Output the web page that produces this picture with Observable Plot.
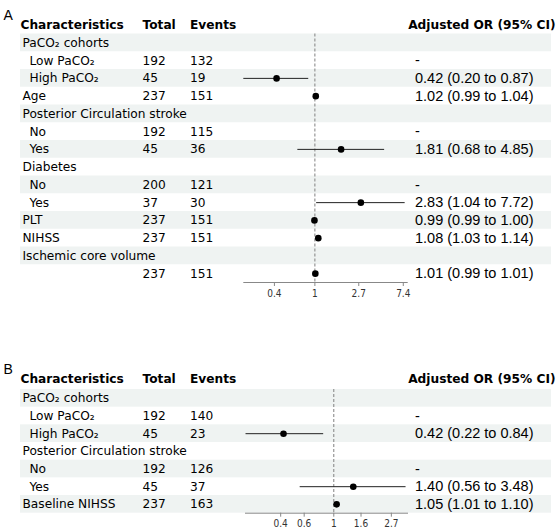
<!DOCTYPE html>
<html>
<head>
<meta charset="utf-8">
<script src="https://cdn.jsdelivr.net/npm/d3@7"></script>
<script src="https://cdn.jsdelivr.net/npm/@observablehq/plot@0.6"></script>
<style>
  body { margin: 0; background: #fff; }
  #chart { width: 560px; }
  #chart svg { display: block; }
</style>
</head>
<body>
<div id="chart"></div>
<script>
// Panel A: multivariable model with all covariates
const labelsA = ["PaCO₂ cohorts", "Low PaCO₂", "High PaCO₂", "Age", "Posterior Circulation stroke", "No", "Yes", "Diabetes", "No", "Yes", "PLT", "NIHSS", "Ischemic core volume", ""];
const indentA = [0, 1, 1, 0, 0, 1, 1, 0, 1, 1, 0, 0, 0, 0];
const totalA  = ["", "192", "45", "237", "", "192", "45", "", "200", "37", "237", "237", "", "237"];
const eventsA = ["", "132", "19", "151", "", "115", "36", "", "121", "30", "151", "151", "", "151"];
const refA    = [0, 1, 0, 0, 0, 1, 0, 0, 1, 0, 0, 0, 0, 0];
const orA     = [null, null, 0.42, 1.02, null, null, 1.81, null, null, 2.83, 0.99, 1.08, null, 1.01];
const lowA    = [null, null, 0.20, 0.99, null, null, 0.68, null, null, 1.04, 0.99, 1.03, null, 0.99];
const highA   = [null, null, 0.87, 1.04, null, null, 4.85, null, null, 7.72, 1.00, 1.14, null, 1.01];
const ticksA  = [0.4, 1, 2.7, 7.4];

// Panel B: reduced model
const labelsB = ["PaCO₂ cohorts", "Low PaCO₂", "High PaCO₂", "Posterior Circulation stroke", "No", "Yes", "Baseline NIHSS"];
const indentB = [0, 1, 1, 0, 1, 1, 0];
const totalB  = ["", "192", "45", "", "192", "45", "237"];
const eventsB = ["", "140", "23", "", "126", "37", "163"];
const refB    = [0, 1, 0, 0, 1, 0, 0];
const orB     = [null, null, 0.42, null, null, 1.40, 1.05];
const lowB    = [null, null, 0.22, null, null, 0.56, 1.01];
const highB   = [null, null, 0.84, null, null, 3.48, 1.10];
const ticksB  = [0.4, 0.6, 1, 1.6, 2.7];

const headers = ["Characteristics", "Total", "Events", "Adjusted OR (95% CI)"];

const TABLE_FONT = "'DejaVu Sans', Verdana, sans-serif";
const CI_FONT = "'Liberation Sans', Arial, Helvetica, sans-serif";
const TICK_FONT = "'DejaVu Sans Condensed', 'DejaVu Sans', sans-serif";
const f2 = d3.format(".2f");

function buildRows(labels, indent, total, events, ref, or, low, high) {
  return labels.map((label, i) => ({
    i, label, indent: indent[i], total: total[i], events: events[i],
    ref: ref[i], or: or[i], lo: low[i], hi: high[i],
    ci: ref[i] ? "-" : (or[i] == null ? "" : `${f2(or[i])} (${f2(low[i])} to ${f2(high[i])})`)
  }));
}

function forest({panel, rows, ticks, xDomain, xRange, height, top, rowH, headerY, panelDy}) {
  const n = rows.length;
  const est = rows.filter(d => d.or != null);
  const yc = d => d.i + 0.5;
  const cell = (data, text, dx, extra = {}) =>
    Plot.text(data, {y: yc, text, frameAnchor: "left", textAnchor: "start", dx, ...extra});
  const head = (label, dx, extra = {}) =>
    Plot.text([label], {y: headerY, text: d => d, frameAnchor: "left", textAnchor: "start", dx,
      fontWeight: "bold", ...extra});
  return Plot.plot({
    width: 560,
    height,
    marginLeft: 20,
    marginRight: 9,
    marginTop: top,
    marginBottom: height - (top + n * rowH),
    x: {type: "log", domain: xDomain, range: xRange, axis: null},
    y: {domain: [0, n], range: [top, top + n * rowH], axis: null},
    style: {fontFamily: TABLE_FONT, fontSize: "12.2px", color: "#000", background: "#fff"},
    marks: [
      // zebra striping across the whole table
      Plot.rect(rows.filter(d => d.i % 2 === 0), {y1: d => d.i, y2: d => d.i + 1, fill: "#eff3f2"}),
      // line of no effect
      Plot.ruleX([1], {y1: 0, y2: n, stroke: "#808080", strokeDasharray: "3,2"}),
      // confidence intervals and point estimates
      Plot.ruleY(est, {y: yc, x1: "lo", x2: "hi", stroke: "#222", strokeWidth: 1}),
      Plot.dot(est, {x: "or", y: yc, r: 3.3, fill: "#000", stroke: "none"}),
      // x axis: baseline, tick marks and labels
      Plot.ruleY([n], {x1: xDomain[0], x2: xDomain[1], stroke: "#888"}),
      Plot.ruleX(ticks, {x: d => d, y1: n, y2: n + 4 / rowH, stroke: "#888"}),
      Plot.text(ticks, {x: d => d, y: n, dy: 11, text: d => `${d}`, fill: "#333",
        fontFamily: TICK_FONT, fontSize: 10}),
      // table columns
      cell(rows.filter(d => !d.indent), "label", 2),
      cell(rows.filter(d => d.indent), "label", 9),
      cell(rows, "total", 122),
      cell(rows, "events", 169.5),
      cell(rows, "ci", 394.5, {fontFamily: CI_FONT, fontSize: 14.5}),
      // column headers
      head(headers[0], 0),
      head(headers[1], 122),
      head(headers[2], 169.5),
      Plot.text([headers[3]], {y: headerY, text: d => d, frameAnchor: "right", textAnchor: "end",
        dx: 4, fontWeight: "bold"}),
      // panel letter
      Plot.text([panel], {frameAnchor: "top-left", textAnchor: "start", dx: -17, dy: panelDy,
        fontFamily: CI_FONT, fontSize: 14})
    ]
  });
}

const rowsA = buildRows(labelsA, indentA, totalA, eventsA, refA, orA, lowA, highA);
const rowsB = buildRows(labelsB, indentB, totalB, eventsB, refB, orB, lowB, highB);

const chart = document.getElementById("chart");
chart.append(forest({
  panel: "A", rows: rowsA, ticks: ticksA,
  xDomain: [0.2, 8.27], xRange: [243.3, 407.7],
  height: 320, top: 33.5, rowH: 17.75, headerY: -0.52, panelDy: -23.5
}));
chart.append(forest({
  panel: "B", rows: rowsB, ticks: ticksB,
  xDomain: [0.218, 3.63], xRange: [245, 408],
  height: 211, top: 69, rowH: 17.67, headerY: -0.58, panelDy: -25
}));
</script>
</body>
</html>
